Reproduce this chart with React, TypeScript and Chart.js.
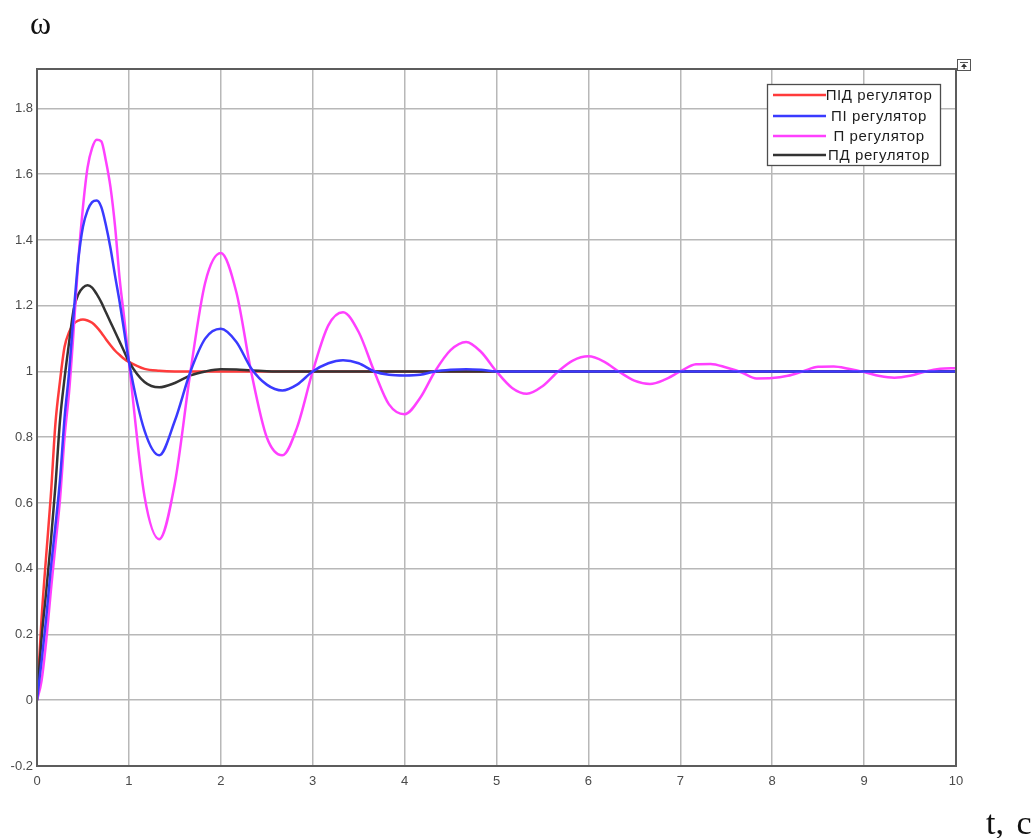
import React, { useEffect, useRef } from "react";
import { Chart, registerables } from "chart.js";

Chart.register(...registerables);

// time grid, seconds
const timeSec = [
  0, 0.05, 0.1, 0.15, 0.2, 0.25, 0.3, 0.35, 0.4, 0.45, 0.5, 0.55, 0.6, 0.65, 0.7, 0.75, 0.8, 0.85, 0.9, 0.95, 1.0,
  1.17, 1.33, 1.5, 1.67, 1.83, 2.0, 2.17, 2.33,
  2.5, 2.67, 2.83, 3.0, 3.17, 3.33, 3.5, 3.67,
  3.83, 4.0, 4.17, 4.33, 4.5, 4.67, 4.83, 5.0,
  5.17, 5.33, 5.5, 5.67, 5.83, 6.0, 6.17, 6.33,
  6.5, 6.67, 6.83, 7.0, 7.17, 7.33, 7.5, 7.67,
  7.83, 8.0, 8.17, 8.33, 8.5, 8.67, 8.83, 9.0,
  9.17, 9.33, 9.5, 9.67, 9.83, 10.0,
];

// ПІД регулятор (red)
const pidValues = [
  0, 0.25, 0.44, 0.62, 0.84, 0.97, 1.075, 1.12, 1.145, 1.155, 1.158, 1.155, 1.148, 1.135, 1.118, 1.098, 1.08, 1.063, 1.05, 1.038, 1.029,
  1.008, 1.002, 1, 1, 1, 1, 1, 1,
  1, 1, 1, 1, 1, 1, 1, 1,
  1, 1, 1, 1, 1, 1, 1, 1,
  1, 1, 1, 1, 1, 1, 1, 1,
  1, 1, 1, 1, 1, 1, 1, 1,
  1, 1, 1, 1, 1, 1, 1, 1,
  1, 1, 1, 1, 1, 1,
];

// ПІ регулятор (blue)
const piValues = [
  0, 0.12, 0.25, 0.4, 0.53, 0.67, 0.86, 1.0, 1.18, 1.34, 1.44, 1.49, 1.515, 1.52, 1.5, 1.445, 1.375, 1.29, 1.21, 1.12, 1.03,
  0.82, 0.745, 0.85, 1.0, 1.1, 1.13, 1.09, 1.01,
  0.96, 0.942, 0.96, 1.0, 1.025, 1.034, 1.025, 1.0,
  0.99, 0.988, 0.99, 1.0, 1.005, 1.007, 1.005, 1.0,
  1, 1, 1, 1, 1, 1, 1, 1,
  1, 1, 1, 1, 1, 1, 1, 1,
  1, 1, 1, 1, 1, 1, 1, 1,
  1, 1, 1, 1, 1, 1,
];

// П регулятор (magenta)
const pValues = [
  0, 0.06, 0.18, 0.33, 0.47, 0.61, 0.8, 0.94, 1.13, 1.34, 1.5, 1.62, 1.68, 1.705, 1.7, 1.64, 1.56, 1.44, 1.28, 1.16, 1.03,
  0.62, 0.49, 0.66, 1.0, 1.27, 1.36, 1.24, 1.0,
  0.8, 0.745, 0.83, 1.0, 1.14, 1.18, 1.12, 1.0,
  0.9, 0.87, 0.92, 1.0, 1.065, 1.09, 1.06, 1.0,
  0.95, 0.932, 0.955, 1.0, 1.033, 1.046, 1.03, 1.0,
  0.972, 0.962, 0.975, 1.0, 1.022, 1.023, 1.012, 0.997,
  0.979, 0.98, 0.987, 1.0, 1.014, 1.015, 1.008, 0.998,
  0.986, 0.981, 0.987, 1.0, 1.008, 1.01,
];

// ПД регулятор (black)
const pdValues = [
  0, 0.19, 0.33, 0.48, 0.65, 0.85, 0.98, 1.09, 1.19, 1.235, 1.255, 1.262, 1.255, 1.235, 1.21, 1.18, 1.15, 1.12, 1.09, 1.06, 1.03,
  0.968, 0.952, 0.965, 0.988, 1.0, 1.007, 1.006, 1.003,
  1.001, 1, 1, 1, 1, 1, 1, 1,
  1, 1, 1, 1, 1, 1, 1, 1,
  1, 1, 1, 1, 1, 1, 1, 1,
  1, 1, 1, 1, 1, 1, 1, 1,
  1, 1, 1, 1, 1, 1, 1, 1,
  1, 1, 1, 1, 1, 1,
];

const seriesLabels = ["ПІД регулятор", "ПІ регулятор", "П регулятор", "ПД регулятор"];
const seriesColors = ["#ff3b3b", "#3a3aff", "#ff40ff", "#333333"];
const seriesOrder = [3, 0, 1, 2];

const xTickValues = [0, 1, 2, 3, 4, 5, 6, 7, 8, 9, 10];
const yTickValues = [-0.2, 0, 0.2, 0.4, 0.6, 0.8, 1, 1.2, 1.4, 1.6, 1.8];

const GRID = "#b8b8b8";
const TICK_COLOR = "#4a4a4a";
const TICK_FONT = { family: "'Liberation Sans', Arial, sans-serif", size: 13 };

const framePlugin = {
  id: "frameAndLegend",
  afterDraw(chart: any) {
    const { ctx, chartArea: a } = chart;
    ctx.save();
    // plot frame
    ctx.strokeStyle = "#5c5c5c";
    ctx.lineWidth = 2;
    ctx.strokeRect(a.left, a.top, a.right - a.left, a.bottom - a.top);

    // small icon at the top right corner
    ctx.lineWidth = 1;
    ctx.strokeStyle = "#555";
    ctx.fillStyle = "#fff";
    ctx.fillRect(957.5, 59.5, 13, 11);
    ctx.strokeRect(957.5, 59.5, 13, 11);
    ctx.beginPath();
    ctx.moveTo(960, 62.5);
    ctx.lineTo(968, 62.5);
    ctx.stroke();
    ctx.fillStyle = "#333";
    ctx.beginPath();
    ctx.moveTo(964, 63.5);
    ctx.lineTo(967, 67);
    ctx.lineTo(961, 67);
    ctx.closePath();
    ctx.fill();
    ctx.fillRect(963.5, 66, 1.2, 3);

    // legend
    const lx = 767.5, ly = 84.5, lw = 173, lh = 81;
    ctx.fillStyle = "#ffffff";
    ctx.fillRect(lx, ly, lw, lh);
    ctx.strokeStyle = "#4d4d4d";
    ctx.lineWidth = 1.3;
    ctx.strokeRect(lx, ly, lw, lh);
    const rowY = [95, 116, 136, 155];
    ctx.font = "15px 'Liberation Sans', Arial, sans-serif";
    try {
      (ctx as any).letterSpacing = "0.6px";
    } catch (e) {}
    ctx.textBaseline = "middle";
    ctx.textAlign = "center";
    chart.data.datasets.forEach((ds: any, i: number) => {
      const y = rowY[i];
      ctx.strokeStyle = ds.borderColor;
      ctx.lineWidth = 2.5;
      ctx.beginPath();
      ctx.moveTo(773, y);
      ctx.lineTo(826, y);
      ctx.stroke();
      ctx.fillStyle = "#1e1e1e";
      ctx.fillText(ds.label, 879, y + 0.5);
    });
    ctx.restore();
  },
};

export default function App() {
  const ref = useRef<HTMLCanvasElement>(null);

  useEffect(() => {
    const seriesValues = [pidValues, piValues, pValues, pdValues];
    const chart = new Chart(ref.current as HTMLCanvasElement, {
      type: "line",
      data: {
        datasets: seriesValues.map((vals, i) => ({
          label: seriesLabels[i],
          data: timeSec.map((t, j) => ({ x: t, y: vals[j] })),
          borderColor: seriesColors[i],
          backgroundColor: seriesColors[i],
          borderWidth: 2.5,
          pointRadius: 0,
          fill: false,
          order: seriesOrder[i],
          cubicInterpolationMode: "monotone",
        })),
      },
      options: {
        responsive: false,
        animation: false,
        devicePixelRatio: 1,
        layout: { padding: { left: 0, top: 69, right: 79, bottom: 0 } },
        plugins: {
          legend: { display: false },
          tooltip: { enabled: false },
        },
        scales: {
          x: {
            type: "linear",
            min: 0,
            max: 10,
            afterBuildTicks: (s: any) => {
              s.ticks = xTickValues.map((v) => ({ value: v }));
            },
            afterFit: (s: any) => {
              s.height = 72;
            },
            grid: { color: GRID, lineWidth: 1.5, drawTicks: false },
            border: { display: false },
            ticks: {
              padding: 8,
              color: TICK_COLOR,
              font: TICK_FONT,
              maxRotation: 0,
              autoSkip: false,
              callback: (v: any) => String(v),
            },
          },
          y: {
            type: "linear",
            min: -0.2,
            max: 1.92,
            afterBuildTicks: (s: any) => {
              s.ticks = yTickValues.map((v) => ({ value: v }));
            },
            afterFit: (s: any) => {
              s.width = 37;
            },
            grid: { color: GRID, lineWidth: 1.5, drawTicks: false },
            border: { display: false },
            ticks: {
              padding: 4,
              color: TICK_COLOR,
              font: TICK_FONT,
              autoSkip: false,
              callback: (v: any) => String(Math.round(Number(v) * 10) / 10),
            },
          },
        },
      },
      plugins: [framePlugin],
    } as any);
    return () => chart.destroy();
  }, []);

  return (
    <div style={{ position: "fixed", left: 0, top: 0, width: 1035, height: 838, background: "#fff" }}>
      <canvas
        ref={ref}
        width={1035}
        height={838}
        style={{ position: "absolute", left: 0, top: 0, width: 1035, height: 838 }}
      />
      <div
        style={{
          position: "absolute",
          left: 30,
          top: 7,
          fontFamily: "'Liberation Serif', 'Times New Roman', serif",
          fontSize: 32,
          lineHeight: "32px",
          color: "#111",
        }}
      >
        ω
      </div>
      <div
        style={{
          position: "absolute",
          left: 986,
          top: 807,
          fontFamily: "'Liberation Serif', 'Times New Roman', serif",
          fontSize: 34,
          lineHeight: "32px",
          wordSpacing: 4,
          color: "#111",
          whiteSpace: "nowrap",
        }}
      >
        t, c
      </div>
    </div>
  );
}
